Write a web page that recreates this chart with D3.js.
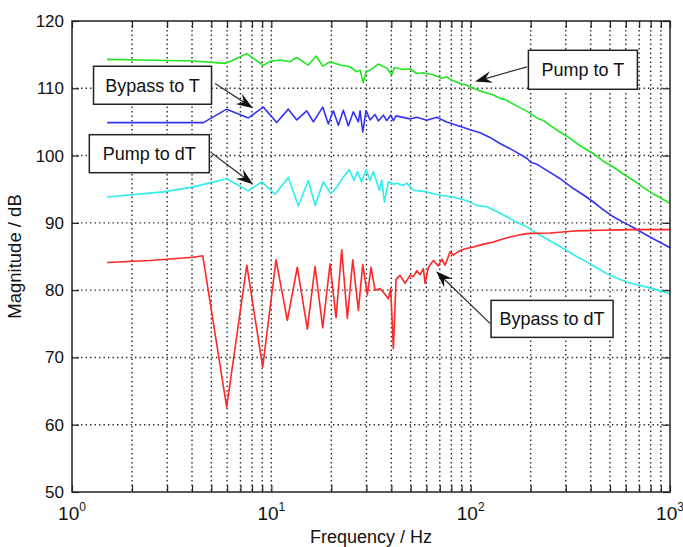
<!DOCTYPE html>
<html>
<head>
<meta charset="utf-8">
<script src="https://cdn.jsdelivr.net/npm/d3@7/dist/d3.min.js"></script>
<style>
  html, body { margin: 0; padding: 0; background: #fff; }
  svg { display: block; }
  text { font-family: "Liberation Sans", Arial, Helvetica, sans-serif; fill: #111; }
</style>
</head>
<body>
<svg id="chart" width="683" height="547"></svg>
<script>
// Frequency response magnitudes: [frequency in Hz, magnitude in dB]
const pumpToT = [
  [1.5,114.3],[2.2,114.2],[4.06,114.05],[5.86,113.7],[6.33,114.1],[7.53,115.15],
  [9.12,113.4],[9.85,114.0],[11.06,114.2],[12.41,113.95],[13.41,114.6],[15.3,113.45],
  [16.8,114.8],[18.1,113.3],[19.7,113.95],[22.1,113.45],[24.8,113.2],[26.8,112.45],
  [27.9,112.7],[28.9,110.8],[29.9,112.45],[31.3,112.7],[34.4,113.6],[37.9,113.0],
  [40.2,112.0],[41.4,113.1],[45.9,112.8],[49.7,112.9],[53.7,112.2],[57.9,112.3],
  [64.8,112.0],[71.6,111.5],[76,111.7],[80.5,111.2],[88.5,110.7],[95,110.5],[103.2,110.0],[111.5,109.6],
  [120.5,109.3],[130,109.0],[140.4,108.5],[150,108.3],[160,107.8],[175,107.2],[191.2,106.6],
  [215,105.6],[232,105.2],[250.2,104.5],[280,103.5],[310,102.7],[340.8,101.8],[380,100.9],
  [412.8,100.3],[460,99.2],[520,98.3],[580,97.3],[655,96.3],[740,95.2],[825,94.3],
  [900,93.7],[1000,92.9]
];
const bypassToT = [
  [1.5,104.9],[4.56,104.9],[5.97,106.9],[7.67,105.6],[9.12,107.2],[10.64,104.9],
  [12.17,106.9],[13.41,105.3],[15.05,106.65],[16.24,105.0],[18.11,107.2],[19.32,104.7],
  [20.47,106.65],[21.69,104.5],[22.97,106.75],[24.34,104.4],[25.79,106.5],[27.33,105.0],
  [27.87,106.65],[28.75,103.5],[29.87,106.7],[31.28,105.3],[33.14,106.1],[34.43,105.15],
  [36.48,106.0],[37.93,105.2],[39.72,106.0],[40.94,105.2],[42.24,105.9],[49.65,105.45],
  [53.65,105.7],[60.23,105.25],[67.59,105.7],[75.88,105.0],[85,104.5],[103.2,103.7],
  [111.5,103.4],[125,102.7],[140.4,101.8],[165,100.7],[191.2,99.6],[200,99.0],[215,98.7],
  [240.9,97.8],[280,96.6],[327.6,95.1],[370,94.1],[412.8,93.1],[460,92.0],[520,90.9],
  [590,90.0],[655,89.3],[720,88.6],[794,87.9],[880,87.2],[1000,86.3]
];
const pumpToDT = [
  [1.5,93.85],[2.87,94.6],[4.06,95.35],[5.97,96.55],[7.67,94.75],[8.95,96.1],
  [10.44,94.25],[12.17,96.75],[13.66,92.5],[15.33,96.3],[16.57,92.6],[18.24,96.1],
  [19.86,94.35],[21.29,95.3],[22.97,96.8],[24.62,97.9],[26.0,96.3],[27.01,97.6],
  [28.42,96.1],[29.87,97.9],[31.28,96.3],[32.49,97.6],[34.83,94.85],[35.81,96.3],
  [36.9,93.1],[38.64,96.1],[40.94,95.75],[42.58,95.9],[45.95,95.55],[47.79,95.9],
  [51.58,94.85],[60.23,94.6],[70.22,94.1],[81.9,93.85],[95.59,93.3],[107.3,92.6],
  [120.5,92.4],[135,91.7],[151.8,90.9],[170,90.1],[191.2,89.4],[210,88.6],[231.6,87.9],
  [265,86.9],[303.5,85.9],[340,85.0],[382.3,84.2],[430,83.3],[481.9,82.45],[540,81.8],
  [607,81.2],[680,80.8],[765,80.45],[870,80.0],[1000,79.5]
];
const bypassToDT = [
  [1.5,84.1],[2.46,84.4],[4.06,84.9],[4.53,85.1],[5.97,62.6],[7.53,83.7],[9.05,68.55],
  [10.56,84.5],[12.03,75.5],[13.5,83.4],[15.16,74.2],[16.57,83.5],[18.11,74.4],
  [19.7,83.9],[21.12,75.9],[22.55,86.0],[24.06,75.8],[25.62,84.5],[27.33,77.0],
  [28.75,83.8],[30.32,79.3],[31.64,83.4],[33.14,80.0],[35.11,80.2],[37.2,79.4],
  [38.64,78.7],[39.72,80.2],[40.94,71.3],[42.24,81.6],[44.23,82.2],[46.86,81.0],
  [49.65,82.2],[51.58,82.0],[53.65,82.9],[55.74,82.3],[57.9,83.2],[59.06,81.0],
  [61.36,83.4],[64.98,84.4],[68.85,83.6],[71.61,84.6],[74.39,83.7],[78.83,85.7],
  [81.9,85.2],[88.49,85.9],[95,86.2],[103.2,86.4],[115,86.8],[130,87.15],[145,87.6],
  [157.6,87.9],[175,88.2],[191.2,88.4],[220,88.45],[250.2,88.5],[290,88.65],
  [327.6,88.8],[380,88.85],[446,88.9],[540,88.95],[655,89.0],[800,89.0],[1000,89.0]
];

const seriesColors = { pumpToT: "#1fe61f", bypassToT: "#3333f5", pumpToDT: "#2ceeee", bypassToDT: "#ff2626" };

const decadeTicks = [1, 10, 100, 1000];
const yTicks = [50, 60, 70, 80, 90, 100, 110, 120];

// Callout boxes: box centre and arrow ends in data units (Hz, dB)
const callouts = [
  { label: "Bypass to T",  boxF: 2.535, boxDb: 110.45, w: 118, h: 38, tailF: 5.22,  tailDb: 110.7, tipF: 8.09,  tipDb: 107.05 },
  { label: "Pump to dT",   boxF: 2.443, boxDb: 100.28, w: 120, h: 38, tailF: 5.04,  tailDb: 100.36, tipF: 8.09, tipDb: 95.74 },
  { label: "Pump to T",    boxF: 365.6, boxDb: 112.75, w: 109, h: 39, tailF: 191.9, tailDb: 113.2, tipF: 105.2, tipDb: 111.0 },
  { label: "Bypass to dT", boxF: 256.1, boxDb: 75.73,  w: 122, h: 37, tailF: 125.1, tailDb: 75.06, tipF: 67.1,  tipDb: 82.8 }
];

const svg = d3.select("#chart");
const plotL = 72, plotR = 670, plotT = 21, plotB = 492;

const x = d3.scaleLog().domain([1, 1000]).range([plotL, plotR]);
const y = d3.scaleLinear().domain([50, 120]).range([plotB, plotT]);

// every log tick: 1..9 per decade
const logTicks = [];
[1, 10, 100].forEach(d => { for (let k = 1; k <= 9; k++) logTicks.push(k * d); });
logTicks.push(1000);

// dotted grid
const grid = svg.append("g").attr("class", "grid");
grid.selectAll("line.v").data(logTicks.filter(t => t > 1 && t < 1000)).join("line")
  .attr("class", "v")
  .attr("x1", d => x(d)).attr("x2", d => x(d)).attr("y1", plotT).attr("y2", plotB);
grid.selectAll("line.h").data(yTicks.filter(t => t > 50 && t < 120)).join("line")
  .attr("class", "h")
  .attr("x1", plotL).attr("x2", plotR).attr("y1", d => y(d)).attr("y2", d => y(d));
grid.selectAll("line")
  .attr("stroke", "#2a2a2a").attr("stroke-width", 1.4)
  .attr("stroke-dasharray", "1.4,3.1");

// curves
const line = d3.line().x(d => x(d[0])).y(d => y(d[1]));
const curves = [
  [pumpToT, seriesColors.pumpToT],
  [bypassToT, seriesColors.bypassToT],
  [pumpToDT, seriesColors.pumpToDT],
  [bypassToDT, seriesColors.bypassToDT]
];
svg.append("g").selectAll("path").data(curves).join("path")
  .attr("d", d => line(d[0]))
  .attr("fill", "none")
  .attr("stroke", d => d[1])
  .attr("stroke-width", 1.6)
  .attr("stroke-linejoin", "round");

// inward ticks on all four sides
const tickStyle = g => {
  g.select(".domain").remove();
  g.selectAll(".tick line").attr("stroke", "#222").attr("stroke-width", 1.2);
};
svg.append("g").attr("transform", `translate(0,${plotB})`)
  .call(d3.axisBottom(x).tickValues(logTicks).tickSizeInner(-7).tickSizeOuter(0).tickFormat(() => ""))
  .call(tickStyle);
svg.append("g").attr("transform", `translate(0,${plotT})`)
  .call(d3.axisTop(x).tickValues(logTicks).tickSizeInner(-7).tickSizeOuter(0).tickFormat(() => ""))
  .call(tickStyle);
svg.append("g").attr("transform", `translate(${plotL},0)`)
  .call(d3.axisLeft(y).tickValues(yTicks).tickSizeInner(-7).tickSizeOuter(0).tickPadding(8))
  .call(tickStyle)
  .call(g => g.selectAll(".tick text")
    .attr("font-size", "17px").attr("fill", "#111")
    .attr("font-family", "'Liberation Sans', Arial, sans-serif"));
svg.append("g").attr("transform", `translate(${plotR},0)`)
  .call(d3.axisRight(y).tickValues(yTicks).tickSizeInner(-7).tickSizeOuter(0).tickFormat(() => ""))
  .call(tickStyle);

// decade labels as 10 with superscript exponent
const xl = svg.append("g").selectAll("text").data(decadeTicks).join("text")
  .attr("x", d => x(d)).attr("y", plotB + 28)
  .attr("text-anchor", "middle");
xl.append("tspan").attr("font-size", "19px").text("10");
xl.append("tspan").attr("font-size", "12px").attr("dy", -9)
  .text(d => String(Math.round(Math.log10(d))));

// frame
svg.append("rect")
  .attr("x", plotL).attr("y", plotT)
  .attr("width", plotR - plotL).attr("height", plotB - plotT)
  .attr("fill", "none").attr("stroke", "#222").attr("stroke-width", 1.5);

// axis titles
svg.append("text")
  .attr("x", (plotL + plotR) / 2).attr("y", 543)
  .attr("text-anchor", "middle").attr("font-size", "18px")
  .text("Frequency / Hz");
svg.append("text")
  .attr("transform", `translate(21,${(plotT + plotB) / 2}) rotate(-90)`)
  .attr("text-anchor", "middle").attr("font-size", "18.5px")
  .text("Magnitude / dB");

// callouts: arrow then labelled box
const ann = svg.append("g");
callouts.forEach(c => {
  const tx = x(c.tailF), ty = y(c.tailDb), px = x(c.tipF), py = y(c.tipDb);
  const ang = Math.atan2(py - ty, px - tx);
  const len = 17, half = 6, notch = 11;
  const ux = Math.cos(ang), uy = Math.sin(ang);
  const bx = px - ux * len, by = py - uy * len;
  const nx = px - ux * notch, ny = py - uy * notch;
  ann.append("line")
    .attr("x1", tx).attr("y1", ty).attr("x2", nx).attr("y2", ny)
    .attr("stroke", "#333").attr("stroke-width", 1.3);
  ann.append("path")
    .attr("d", `M${px},${py}L${bx - uy * half},${by + ux * half}L${nx},${ny}L${bx + uy * half},${by - ux * half}Z`)
    .attr("fill", "#111");
  const cx = x(c.boxF), cy = y(c.boxDb);
  ann.append("rect")
    .attr("x", cx - c.w / 2).attr("y", cy - c.h / 2)
    .attr("width", c.w).attr("height", c.h)
    .attr("fill", "#fff").attr("stroke", "#222").attr("stroke-width", 1.5);
  ann.append("text")
    .attr("x", cx).attr("y", cy + 6.5)
    .attr("text-anchor", "middle").attr("font-size", "18px")
    .text(c.label);
});
</script>
</body>
</html>
